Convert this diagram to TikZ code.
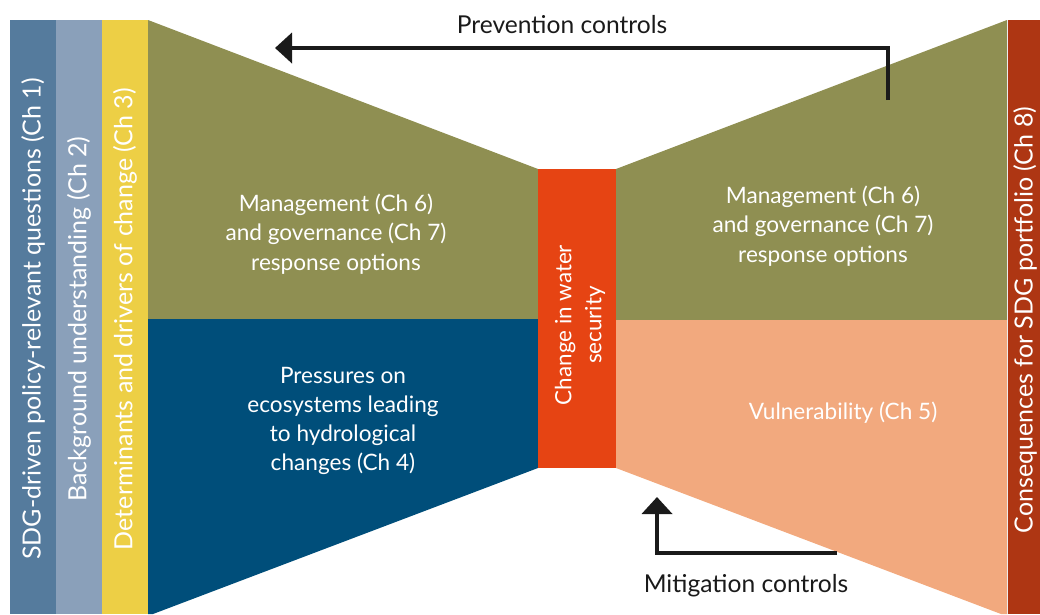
\documentclass[tikz,border=0pt]{standalone}
\usepackage{fontspec}
\setmainfont{Lato}
\usetikzlibrary{arrows.meta}
\definecolor{barA}{HTML}{557B9D}
\definecolor{barB}{HTML}{8AA0BA}
\definecolor{barC}{HTML}{EDCF45}
\definecolor{olive}{HTML}{8F8F52}
\definecolor{deepblue}{HTML}{004E7A}
\definecolor{waterred}{HTML}{E64413}
\definecolor{peach}{HTML}{F2A97E}
\definecolor{rust}{HTML}{AE3613}
\definecolor{ink}{HTML}{1A1A1A}
\tikzset{
  bartext/.style={text=white, rotate=90, font=\fontsize{25}{30}\selectfont, inner sep=0pt},
  boxtext/.style={text=white, align=center, font=\fontsize{22.6}{29.3}\selectfont, inner sep=0pt},
  ctrltext/.style={text=ink, font=\fontsize{24.6}{28}\selectfont, inner sep=0pt, anchor=base},
  ctrlarrow/.style={draw=ink, line width=4pt, -{Triangle[width=30pt,length=17pt]}},
}
\begin{document}
\begin{tikzpicture}[x=1pt,y=-1pt]
\useasboundingbox (0,0) rectangle (1040,614);
% left bars
\fill[barA] (10,20) rectangle (56,614);
\fill[barB] (56,20) rectangle (102,614);
\fill[barC] (102,20) rectangle (148,614);
% left bow
\fill[olive] (148,20) -- (538,169) -- (538,319) -- (148,319) -- cycle;
\fill[deepblue] (148,319) -- (538,319) -- (538,468) -- (153,614) -- (148,614) -- cycle;
% right bow
\fill[olive] (616,169) -- (1007,20) -- (1007,320) -- (616,320) -- cycle;
\fill[peach] (616,320) -- (1007,320) -- (1007,614) -- (1001,614) -- (616,468) -- cycle;
% centre
\fill[waterred] (538,169) rectangle (616,468);
% right bar
\fill[rust] (1007,20) rectangle (1040,614);
\draw[white!85!gray, line width=0.8pt] (1007,20) -- (1007,614);

% bar texts
\node[bartext] (q1) at (33,319) {SDG-driven policy-relevant questions (Ch 1)};
\node[bartext] (q2) at (79,319) {Background understanding (Ch 2)};
\node[bartext] (q3) at (125,319) {Determinants and drivers of change (Ch 3)};
\node[bartext] (q8) at (1025,320) {Consequences for SDG portfolio (Ch 8)};

% box texts
\node[boxtext] (lm) at (336,234) {Management (Ch 6)\\and governance (Ch 7)\\response options};
\node[boxtext] (rm) at (823,226) {Management (Ch 6)\\and governance (Ch 7)\\response options};
\node[boxtext] (pr) at (343,421) {Pressures on\\ecosystems leading\\to hydrological\\changes (Ch 4)};
\node[boxtext] (vu) at (843,413) {Vulnerability (Ch 5)};
\node[boxtext, rotate=90, font=\fontsize{22.4}{30}\selectfont] (cw) at (580,325) {Change in water\\security};

% controls
\node[ctrltext] (pc) at (562,33) {Prevention controls};
\node[ctrltext] (mc) at (746,592) {Mitigation controls};
\coordinate (pa) at (888,100);
\coordinate (pb) at (275,48);
\draw[ctrlarrow] (pa) |- (pb);
\coordinate (ma) at (837,553);
\coordinate (mb) at (657,497);
\draw[ctrlarrow] (ma) -| (mb);
\end{tikzpicture}
\end{document}
